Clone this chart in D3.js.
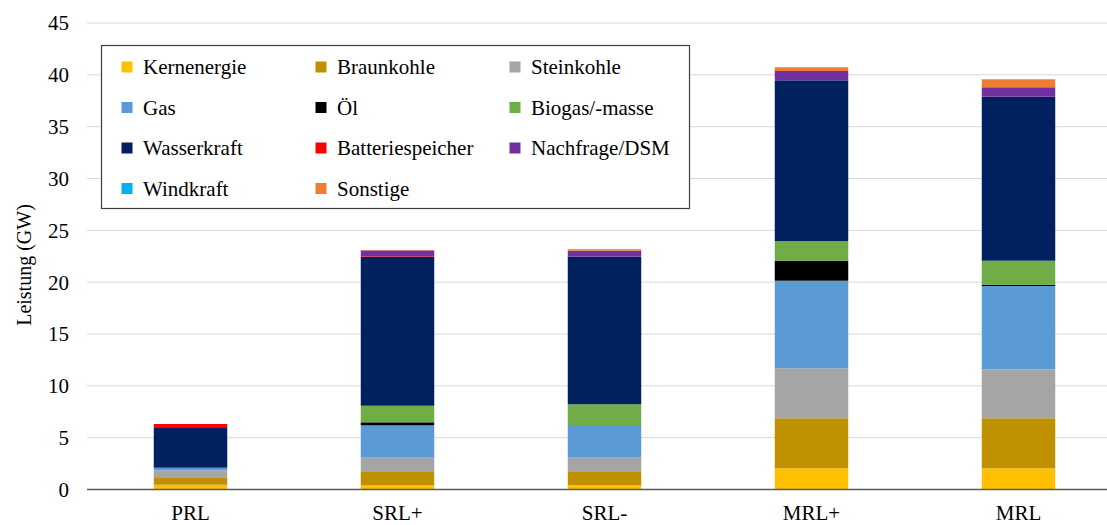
<!DOCTYPE html>
<html>
<head>
<meta charset="utf-8">
<script src="https://cdn.jsdelivr.net/npm/d3@7"></script>
<style>
  body { margin: 0; background: #fff; }
  svg { font-family: "Liberation Serif", "Times New Roman", serif; }
</style>
</head>
<body>
<div class="chart"></div>
<script>
let categories = ["PRL", "SRL+", "SRL-", "MRL+", "MRL"]
let seriesNames = ["Kernenergie", "Braunkohle", "Steinkohle", "Gas", "Öl", "Biogas/-masse",
  "Wasserkraft", "Batteriespeicher", "Nachfrage/DSM", "Windkraft", "Sonstige"]
let seriesColors = ["#FFC000", "#BF9000", "#A5A5A5", "#5B9BD5", "#000000", "#70AD47",
  "#002060", "#FF0000", "#7030A0", "#00B0F0", "#ED7D31"]

// Leistung in GW, eine Liste pro Energieträger (Reihenfolge wie categories)
let kernenergie = [0.46, 0.43, 0.43, 2.04, 2.04]
let braunkohle = [0.72, 1.26, 1.26, 4.83, 4.83]
let steinkohle = [0.67, 1.38, 1.38, 4.82, 4.72]
let gas = [0.25, 3.12, 3.15, 8.45, 8.04]
let oel = [0, 0.29, 0, 1.93, 0.13]
let biogas = [0, 1.6, 2.0, 1.9, 2.31]
let wasserkraft = [3.83, 14.38, 14.24, 15.5, 15.82]
let batterie = [0.39, 0.05, 0, 0, 0]
let dsm = [0, 0.55, 0.57, 0.9, 0.91]
let windkraft = [0, 0, 0, 0, 0]
let sonstige = [0, 0.05, 0.15, 0.36, 0.77]

let yTicks = [0, 5, 10, 15, 20, 25, 30, 35, 40, 45]

let width = 1107, height = 525
let values = [kernenergie, braunkohle, steinkohle, gas, oel, biogas, wasserkraft, batterie, dsm, windkraft, sonstige]

let table = categories.map((c, i) => {
  let row = { cat: c }
  seriesNames.forEach((s, j) => { row[s] = values[j][i] })
  return row
})

let svg = d3.select(".chart")
  .append("svg")
  .attr("width", width)
  .attr("height", height)

let x = d3.scaleBand()
  .domain(categories)
  .range([87, 1122])
  .paddingInner(0.645)
  .paddingOuter(0.3225)

let y = d3.scaleLinear()
  .domain([0, 45])
  .range([489.5, 23])

// Gitterlinien
svg.append("g")
  .selectAll("line")
  .data(yTicks.filter(d => d > 0))
  .enter()
  .append("line")
  .attr("x1", 87)
  .attr("x2", width)
  .attr("y1", d => y(d))
  .attr("y2", d => y(d))
  .attr("stroke", "#d9d9d9")
  .attr("stroke-width", 1)

// y-Achse Beschriftung
svg.append("g")
  .selectAll("text")
  .data(yTicks)
  .enter()
  .append("text")
  .attr("x", 69)
  .attr("y", d => y(d))
  .attr("dy", "0.35em")
  .attr("text-anchor", "end")
  .attr("font-size", 21)
  .attr("fill", "#000")
  .text(d => d)

svg.append("text")
  .attr("transform", "translate(24,265) rotate(-90)")
  .attr("text-anchor", "middle")
  .attr("dy", "0.35em")
  .attr("font-size", 20)
  .text("Leistung (GW)")

// gestapelte Balken
let stack = d3.stack().keys(seriesNames)
let layers = stack(table)

svg.append("g")
  .selectAll("g")
  .data(layers)
  .enter()
  .append("g")
  .attr("fill", (d, i) => seriesColors[i])
  .selectAll("rect")
  .data(d => d)
  .enter()
  .append("rect")
  .attr("x", d => x(d.data.cat))
  .attr("width", x.bandwidth())
  .attr("y", d => y(d[1]))
  .attr("height", d => y(d[0]) - y(d[1]))

// x-Achse
svg.append("line")
  .attr("x1", 87)
  .attr("x2", width)
  .attr("y1", y(0))
  .attr("y2", y(0))
  .attr("stroke", "#595959")
  .attr("stroke-width", 1.3)

svg.append("g")
  .selectAll("text")
  .data(categories)
  .enter()
  .append("text")
  .attr("x", d => x(d) + x.bandwidth() / 2)
  .attr("y", 520)
  .attr("text-anchor", "middle")
  .attr("font-size", 21)
  .text(d => d)

// Legende
let legend = svg.append("g")
legend.append("rect")
  .attr("x", 101.5)
  .attr("y", 45.5)
  .attr("width", 588)
  .attr("height", 163)
  .attr("fill", "#fff")
  .attr("stroke", "#404040")
  .attr("stroke-width", 1.2)

let colX = [121.5, 315.5, 509.5]
let items = legend.selectAll("g.item")
  .data(seriesNames)
  .enter()
  .append("g")
  .attr("class", "item")
  .attr("transform", (d, i) => `translate(${colX[i % 3]},${67 + Math.floor(i / 3) * 40.5})`)

items.append("rect")
  .attr("x", 0)
  .attr("y", -5.5)
  .attr("width", 11)
  .attr("height", 11)
  .attr("fill", (d, i) => seriesColors[i])

items.append("text")
  .attr("x", 21.5)
  .attr("y", 0)
  .attr("dy", "0.35em")
  .attr("font-size", 21)
  .text(d => d)
</script>
</body>
</html>
